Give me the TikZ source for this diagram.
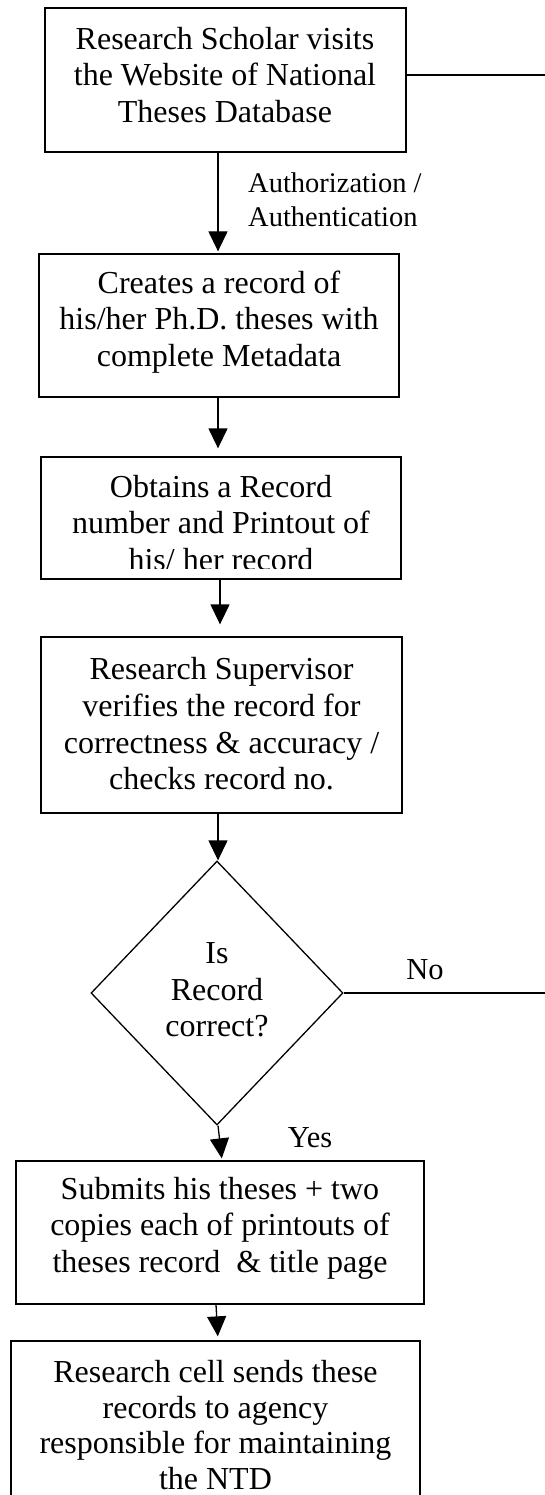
\documentclass[tikz,border=0pt]{standalone}
\usepackage{fontspec}
\setmainfont{Liberation Serif}
\usetikzlibrary{shapes.geometric,arrows.meta,calc}
\begin{document}
\begin{tikzpicture}[x=1pt,y=-1pt,
  box/.style={draw,line width=1.3pt,inner sep=0pt,rectangle},
  txt/.style={font=\fontsize{32}{36.6}\selectfont,align=center,inner sep=0pt},
  lbl/.style={font=\fontsize{30.5}{34}\selectfont,inner sep=0pt},
  arr/.style={line width=1.3pt,-{Triangle[length=20pt,width=19pt]}},
  conn/.style={line width=1.3pt}]
\useasboundingbox (0,0) rectangle (545,1495);
\clip (0,0) rectangle (545,1495);
% boxes
\node[box,minimum width=361pt,minimum height=144pt] (b1) at (225.5,80) {};
\node[box,minimum width=360pt,minimum height=143pt] (b2) at (219,325.5) {};
\node[box,minimum width=360pt,minimum height=122pt] (b3) at (221,518) {};
\node[box,minimum width=361pt,minimum height=176pt] (b4) at (221.5,725) {};
\node[draw,diamond,line width=1.3pt,inner sep=0pt,minimum width=252pt,minimum height=264pt] (d) at (217,993) {};
\node[box,minimum width=408pt,minimum height=143pt] (b5) at (220,1232.5) {};
\node[box,minimum width=409pt,minimum height=240pt] (b6) at (215.5,1461) {};
% texts
\node[txt] (t1) at (225,75) {Research Scholar visits\\the Website of National\\Theses Database};
\node[txt] (t2) at (219,322) {Creates a record of\\his/her Ph.D. theses with\\complete Metadata};
\begin{scope}
\clip (0,0) rectangle (545,568);
\node[txt] (t3) at (221,523) {Obtains a Record\\number and Printout of\\his/ her record};
\end{scope}
\node[txt] (t4) at (221.5,724) {Research Supervisor\\verifies the record for\\correctness \& accuracy /\\checks record no.};
\node[txt] (td) at (217,990) {Is\\Record\\correct?};
\node[txt] (t5) at (220,1228) {Submits his theses + two\\copies each of printouts of\\theses record~ \& title page};
\node[txt,font=\fontsize{32}{35.5}\selectfont] (t6) at (215.5,1425) {Research cell sends these\\records to agency\\responsible for maintaining\\the NTD};
% labels
\node[lbl,font=\fontsize{28.5}{34}\selectfont,align=left,anchor=west] (auth) at (248,200) {Authorization /\\Authentication};
\node[lbl] (no) at (425,970) {No};
\node[lbl] (yes) at (310,1138) {Yes};
% free ends
\coordinate (e1) at (546,75);
\coordinate (e2) at (546,993);
% connectors
\draw[conn] ($(b1.east)+(0,-5)$) -- (e1);
\draw[conn] (d.east) -- (e2);
\draw[arr,shorten >=2pt] ($(b1.south)+(-7.5,0)$) -- ($(b2.north)+(-1,0)$);
\draw[arr,shorten >=8pt] ($(b2.south)+(-1,0)$) -- ($(b3.north)+(-3,0)$);
\draw[arr,shorten >=12pt] ($(b3.south)+(-1,0)$) -- ($(b4.north)+(-1.5,0)$);
\draw[arr] ($(b4.south)+(-3.5,0)$) -- ($(d.north)+(1,0)$);
\draw[arr,shorten >=2pt] ($(d.south)+(1,0)$) -- ($(b5.north)+(2,0)$);
\draw[arr,shorten >=4pt] ($(b5.south)+(-4,0)$) -- ($(b6.north)+(2.5,0)$);
\end{tikzpicture}
\end{document}
